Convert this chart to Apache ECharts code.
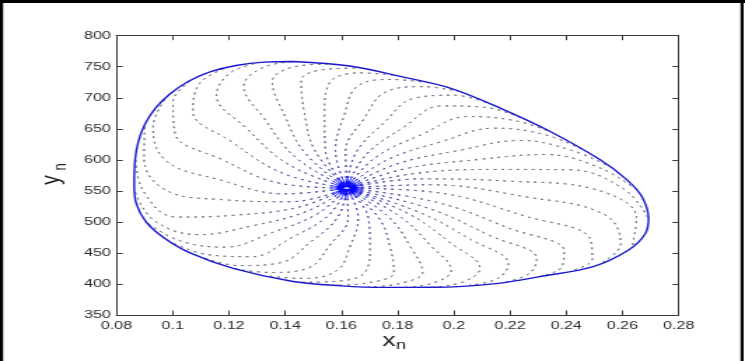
<!DOCTYPE html>
<html><head><meta charset="utf-8">
<script src="https://cdn.jsdelivr.net/npm/echarts@6/dist/echarts.min.js"></script>
<style>
html,body{margin:0;padding:0;background:#fff;overflow:hidden;}
#wrap{width:745px;height:361px;overflow:hidden;position:relative;background:#fff;}
#chart{width:532px;height:361px;transform:scaleX(1.4004);transform-origin:0 0;}
</style></head>
<body><div id="wrap"><div id="chart"></div></div>
<script>
// ---- tick labels ----
const xTickLabels = ['0.08','0.1','0.12','0.14','0.16','0.18','0.2','0.22','0.24','0.26','0.28'];
const yTickLabels = ['350','400','450','500','550','600','650','700','750','800'];

// ---- unstable fixed point (centre of the spiral) ----
const fixedPoint = [0.1619, 554.4];

// ---- invariant closed curve ----
const cycleX = [0.1428,0.1630,0.1809,0.1987,0.2165,0.2343,0.2521,0.2616,0.2669,0.2693,0.2680,0.2622,0.2496,0.2306,0.2158,0.1931,0.1750,0.1600,0.1428,0.1215,0.1062,0.0967,0.0905,0.0870,0.0863,0.0866,0.0878,0.0902,0.0940,0.0992,0.1058,0.1135,0.1225,0.1325,0.1428];
const cycleY = [758.5,751.1,734.4,715.6,683.4,645.7,600.0,567.7,540.8,505.0,480.0,454.8,428.0,411.8,401.0,394.6,394.5,397.0,404.0,425.0,450.0,475.0,500.0,530.0,560.0,600.0,630.0,658.0,684.0,707.0,727.0,742.0,752.0,757.5,758.5];

// ---- dotted spiral arms of the orbit ----
const spiralArms = [
 [[0.1440,602.9],[0.1326,666.4],[0.1253,718.9],[0.1320,748.4],[0.1428,758.5]],
 [[0.1472,610.4],[0.1396,673.7],[0.1354,726.2],[0.1436,750.3],[0.1547,754.1]],
 [[0.1507,614.0],[0.1468,676.5],[0.1457,727.9],[0.1550,746.1],[0.1665,747.8]],
 [[0.1543,615.5],[0.1540,675.5],[0.1558,724.1],[0.1663,740.1],[0.1783,736.8]],
 [[0.1579,615.0],[0.1611,673.0],[0.1658,718.8],[0.1776,729.5],[0.1901,724.7]],
 [[0.1615,613.7],[0.1682,667.1],[0.1758,709.4],[0.1890,717.9],[0.2016,710.3]],
 [[0.1651,610.8],[0.1753,660.3],[0.1859,699.2],[0.2000,704.1],[0.2128,690.1]],
 [[0.1686,607.4],[0.1823,652.9],[0.1957,686.9],[0.2108,684.7],[0.2238,668.0]],
 [[0.1721,603.6],[0.1891,641.9],[0.2052,669.8],[0.2213,663.5],[0.2347,644.8]],
 [[0.1755,598.1],[0.1957,629.5],[0.2145,651.0],[0.2318,641.2],[0.2451,618.0]],
 [[0.1788,591.9],[0.2023,615.6],[0.2238,631.2],[0.2418,615.5],[0.2553,589.2]],
 [[0.1821,585.0],[0.2087,600.5],[0.2326,608.5],[0.2516,587.8],[0.2643,553.8]],
 [[0.1853,577.5],[0.2149,584.5],[0.2413,584.0],[0.2602,553.8],[0.2693,505.4]],
 [[0.1884,569.4],[0.2208,565.4],[0.2489,553.9],[0.2650,507.4],[0.2635,460.3]],
 [[0.1914,559.9],[0.2253,540.6],[0.2532,512.8],[0.2594,464.1],[0.2529,435.0]],
 [[0.1936,547.5],[0.2254,509.3],[0.2483,474.4],[0.2493,439.8],[0.2414,421.0]],
 [[0.1937,531.8],[0.2198,489.7],[0.2393,452.9],[0.2382,426.3],[0.2295,411.0]],
 [[0.1909,522.1],[0.2131,477.4],[0.2295,441.0],[0.2268,416.7],[0.2177,402.4]],
 [[0.1875,515.9],[0.2061,471.4],[0.2194,432.5],[0.2155,408.5],[0.2057,398.2]],
 [[0.1840,512.9],[0.1989,465.8],[0.2093,425.2],[0.2040,404.5],[0.1937,394.8]],
 [[0.1804,510.1],[0.1918,461.6],[0.1991,421.6],[0.1924,401.2],[0.1817,394.5]],
 [[0.1768,508.0],[0.1846,459.7],[0.1889,418.7],[0.1809,400.9],[0.1697,395.4]],
 [[0.1732,507.0],[0.1774,458.5],[0.1787,418.5],[0.1694,401.8],[0.1577,397.9]],
 [[0.1696,506.5],[0.1702,458.5],[0.1685,419.3],[0.1579,404.2],[0.1457,402.8]],
 [[0.1660,506.4],[0.1630,459.6],[0.1583,421.4],[0.1464,408.9],[0.1339,412.8]],
 [[0.1624,507.0],[0.1558,462.0],[0.1481,425.5],[0.1350,418.5],[0.1221,424.4]],
 [[0.1588,508.2],[0.1486,466.0],[0.1381,434.0],[0.1237,429.6],[0.1108,442.5]],
 [[0.1553,510.2],[0.1416,472.9],[0.1281,443.9],[0.1128,447.0],[0.1000,466.2]],
 [[0.1517,513.7],[0.1347,481.7],[0.1185,459.3],[0.1025,469.7],[0.0906,499.6]],
 [[0.1483,518.1],[0.1279,493.3],[0.1093,479.4],[0.0935,501.8],[0.0865,549.9]],
 [[0.1449,523.9],[0.1218,510.7],[0.1013,507.8],[0.0895,550.1],[0.0868,604.4]],
 [[0.1419,532.5],[0.1174,535.9],[0.0978,550.6],[0.0898,602.4],[0.0901,656.7]],
 [[0.1396,545.2],[0.1166,568.0],[0.0981,596.9],[0.0930,652.6],[0.0975,699.5]],
 [[0.1393,561.2],[0.1175,600.5],[0.1009,641.4],[0.1001,693.7],[0.1074,730.2]],
 [[0.1397,577.4],[0.1208,629.6],[0.1072,677.7],[0.1096,723.2],[0.1188,747.9]],
 [[0.1414,592.0],[0.1261,651.5],[0.1156,703.8],[0.1205,740.2],[0.1307,756.5]]
];

const chart = echarts.init(document.getElementById('chart'), null, {renderer:'canvas'});
const FONT = '"Liberation Sans", Arial, sans-serif';
const W = 532, H = 361;

function axisCommon(){
  return {
    axisLine:{show:true, lineStyle:{color:'#3c3c3c', width:1}},
    axisTick:{show:true, inside:true, length:4.5, lineStyle:{color:'#3c3c3c', width:1}},
    splitLine:{show:false}
  };
}

function buildOption(centerPx){
  const dotColor = centerPx ? new echarts.graphic.RadialGradient(centerPx[0], centerPx[1], 70, [
      {offset:0, color:'#0000ff'}, {offset:0.22, color:'#3a3ab0'}, {offset:1, color:'#74748a'}], true) : '#74748a';
  const coreColor = centerPx ? new echarts.graphic.RadialGradient(centerPx[0], centerPx[1], 13, [
      {offset:0, color:'rgba(0,0,255,1)'}, {offset:0.5, color:'rgba(10,10,255,0.8)'}, {offset:1, color:'rgba(40,40,255,0)'}], true) : 'rgba(0,0,0,0)';
  const blobColor = new echarts.graphic.RadialGradient(0.5, 0.5, 0.5, [
      {offset:0, color:'#ffffff'}, {offset:0.16, color:'#ffffff'}, {offset:0.3, color:'#0a0aff'},
      {offset:0.75, color:'rgba(0,0,255,0.85)'}, {offset:1, color:'rgba(0,0,255,0)'}]);
  const series = [];
  spiralArms.forEach((arm, i) => {
    series.push({
      type:'line', name:'arm'+i, data:[fixedPoint].concat(arm), smooth:0.4,
      showSymbol:false, silent:true, animation:false, z:2,
      lineStyle:{type:[1,4.4], width:1, color:dotColor, cap:'round'}
    });
    series.push({
      type:'line', name:'core'+i, data:[fixedPoint].concat(arm), smooth:0.4,
      showSymbol:false, silent:true, animation:false, z:3,
      lineStyle:{width:1, color:coreColor}
    });
  });
  series.push({
    type:'line', name:'cycle', data:cycleX.map((x,i)=>[x, cycleY[i]]), smooth:0.35,
    showSymbol:false, silent:true, animation:false, z:4,
    lineStyle:{color:'#1818cc', width:1.4}
  });
  series.push({
    type:'scatter', name:'fixed', data:[fixedPoint], symbol:'circle', symbolSize:[17,7],
    itemStyle:{color:blobColor}, silent:true, animation:false, z:6
  });
  const xLab = v => xTickLabels[Math.round((v-0.08)/0.02)] || '';
  const yLab = v => yTickLabels[Math.round((v-350)/50)] || '';
  return {
    backgroundColor:'#ffffff',
    animation:false,
    grid:{left:83.2, right:47.4, top:35.7, bottom:46, containLabel:false},
    xAxis:[
      Object.assign(axisCommon(), {type:'value', min:0.08, max:0.28, interval:0.02, position:'bottom',
        axisLabel:{formatter:xLab, color:'#2a2a2a', fontSize:11.5, fontFamily:FONT, margin:5}}),
      Object.assign(axisCommon(), {type:'value', min:0.08, max:0.28, interval:0.02, position:'top',
        axisLabel:{show:false}})
    ],
    yAxis:[
      Object.assign(axisCommon(), {type:'value', min:350, max:800, interval:50, position:'left',
        axisLabel:{formatter:yLab, color:'#2a2a2a', fontSize:11.5, fontFamily:FONT, margin:4}}),
      Object.assign(axisCommon(), {type:'value', min:350, max:800, interval:50, position:'right',
        axisLabel:{show:false}})
    ],
    graphic:[
      {type:'rect', shape:{x:0, y:0, width:W, height:3}, style:{fill:'#000'}, silent:true},
      {type:'rect', shape:{x:0, y:0, width:2.2, height:H}, style:{fill:'#000'}, silent:true},
      {type:'rect', shape:{x:W-3.2, y:0, width:2.2, height:H}, style:{fill:'#000'}, silent:true},
      {type:'text', x:277.8, y:340.3, style:{text:'x', font:'19px '+FONT, fill:'#222', align:'center', verticalAlign:'middle'}, silent:true},
      {type:'text', x:286.3, y:345.5, style:{text:'n', font:'13px '+FONT, fill:'#222', align:'center', verticalAlign:'middle'}, silent:true},
      {type:'text', x:37, y:180, rotation:Math.PI/2, style:{text:'y', font:'19px '+FONT, fill:'#222', align:'center', verticalAlign:'middle'}, silent:true},
      {type:'text', x:43.5, y:167, rotation:Math.PI/2, style:{text:'n', font:'13px '+FONT, fill:'#222', align:'center', verticalAlign:'middle'}, silent:true}
    ],
    series
  };
}

chart.setOption(buildOption(null));
const cpx = chart.convertToPixel({gridIndex:0}, fixedPoint);
chart.setOption(buildOption(cpx), true);
</script>
</body></html>
